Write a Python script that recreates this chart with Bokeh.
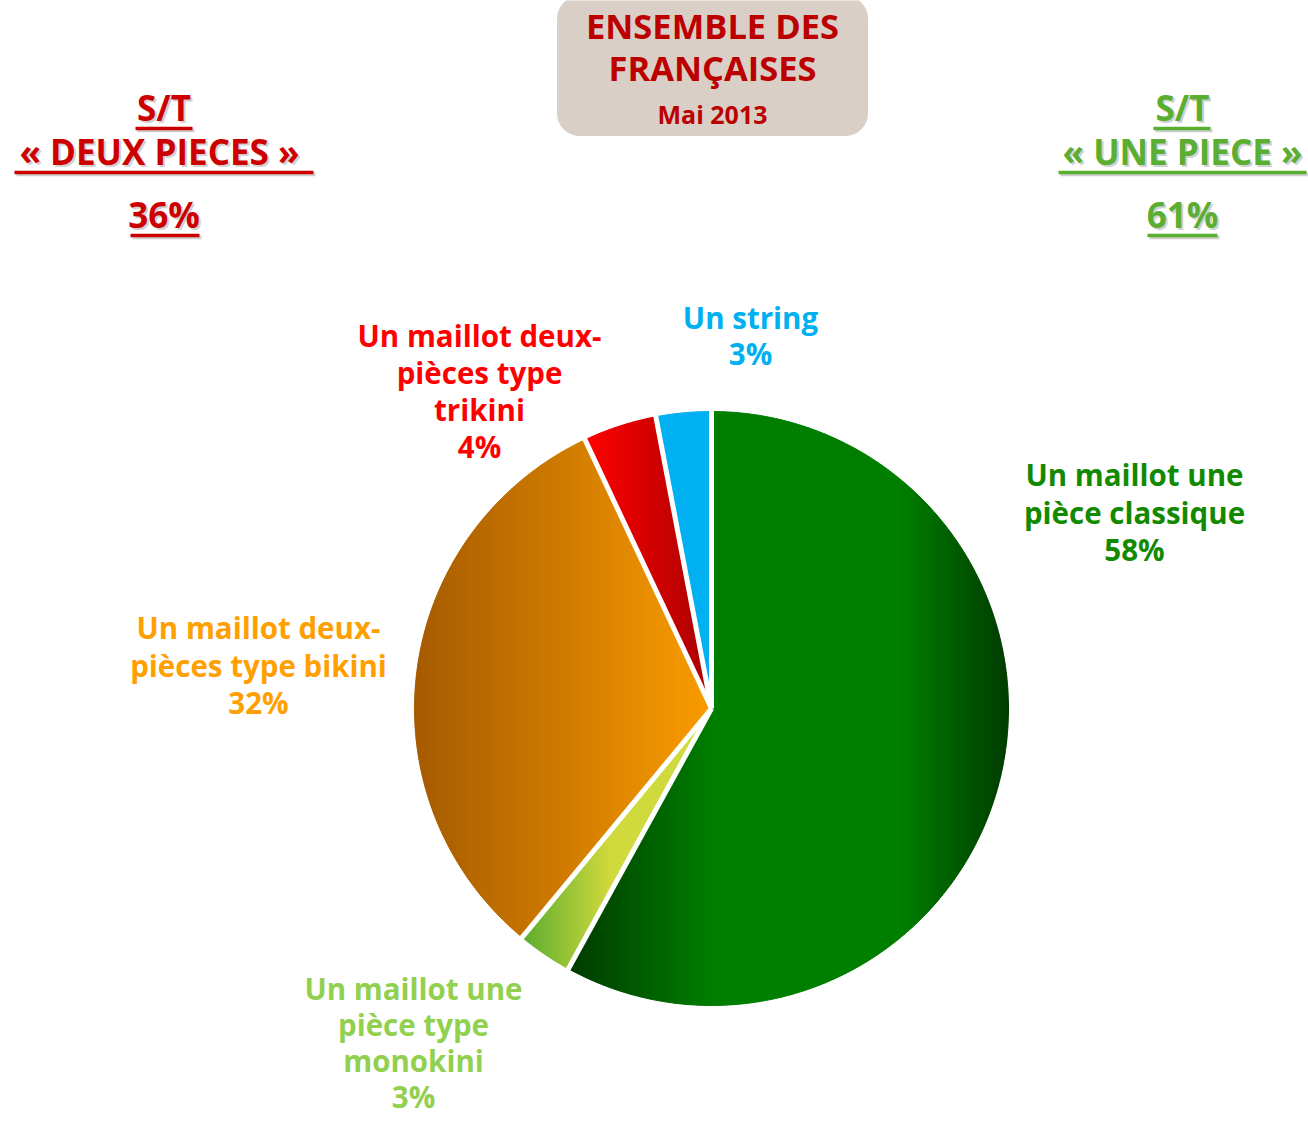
import numpy as np
from bokeh.plotting import figure
from bokeh.models import Range1d, ColumnDataSource
from bokeh.embed import file_html
from bokeh.resources import INLINE
from bokeh.core.properties import value

# ---------------- data ----------------
categories = ["Un maillot une pièce classique",
              "Un maillot une pièce type monokini",
              "Un maillot deux-pièces type bikini",
              "Un maillot deux-pièces type trikini",
              "Un string"]
values = [58, 3, 32, 4, 3]
label_lines = [["Un maillot une", "pièce classique"],
               ["Un maillot une", "pièce type", "monokini"],
               ["Un maillot deux-", "pièces type bikini"],
               ["Un maillot deux-", "pièces type", "trikini"],
               ["Un string"]]
group_of = ["une", "une", "deux", "deux", None]
title_lines = ["ENSEMBLE DES", "FRANÇAISES"]
subtitle = "Mai 2013"
left_head = ["S/T", "«  DEUX PIECES »"]
right_head = ["S/T", "« UNE PIECE »"]

# ---------------- styles / layout ----------------
FONT = value("Open Sans")
label_colors = ["#128A00", "#92D050", "#FFA000", "#FF0000", "#00B0F0"]
grad_stops = [
    [(572, "#003C00"), (715, "#007F00"), (900, "#007F00"), (1008, "#003C00")],
    [(522, "#5BAC2D"), (610, "#D0DA3A")],
    [(414, "#A55A00"), (711, "#FA9C00")],
    [(585, "#FF0000"), (711, "#A80000")],
    [(650, "#00B0F0"), (715, "#00B0F0")],
]
LBL = 29.5
# label anchor: (center x, first baseline y, line spacing) in screen px
label_pos = [(1134, 487, 37.5), (413, 1001, 36), (258, 640, 37.5),
             (479, 348, 37), (750, 330, 36)]

PW, PH = 1308, 1124
p = figure(width=PW, height=PH, x_range=Range1d(0, PW), y_range=Range1d(0, PH),
           output_backend="svg", toolbar_location=None, min_border=0,
           x_axis_location=None, y_axis_location=None)
p.grid.visible = False
p.outline_line_color = None
p.background_fill_color = "white"
p.border_fill_color = "white"


def Y(sy):
    return PH - sy


def TY(baseline, size):
    # bokeh places "alphabetic" text a bit lower than the requested point
    return Y(baseline - 0.43 * size)


def hex2rgb(h):
    h = h.lstrip("#")
    return np.array([int(h[i:i + 2], 16) for i in (0, 2, 4)], dtype=float)


def color_at(stops, x):
    xs = [s[0] for s in stops]
    if x <= xs[0]:
        c = hex2rgb(stops[0][1])
    elif x >= xs[-1]:
        c = hex2rgb(stops[-1][1])
    else:
        for i in range(len(stops) - 1):
            if xs[i] <= x <= xs[i + 1]:
                t = (x - xs[i]) / (xs[i + 1] - xs[i])
                c = hex2rgb(stops[i][1]) * (1 - t) + hex2rgb(stops[i + 1][1]) * t
                break
    return "#%02x%02x%02x" % tuple(int(round(v)) for v in c)


def clip_half(pts, keep, xb):
    out = []
    n = len(pts)
    for i in range(n):
        a = pts[i]
        b = pts[(i + 1) % n]
        ina, inb = keep(a[0]), keep(b[0])
        if ina:
            out.append(a)
        if ina != inb:
            t = (xb - a[0]) / (b[0] - a[0])
            out.append((xb, a[1] + t * (b[1] - a[1])))
    return out


def clip_strip(poly, x0, x1):
    pts = clip_half(poly, lambda x: x >= x0, x0)
    if len(pts) < 3:
        return []
    pts = clip_half(pts, lambda x: x <= x1, x1)
    return pts if len(pts) >= 3 else []


# ---------------- title box ----------------
bx0, bx1, by0, by1, br = 557, 867, -4, 135, 22
box = []
for (ccx, ccy, a0, a1) in [(bx1 - br, by0 + br, -90, 0), (bx1 - br, by1 - br, 0, 90),
                           (bx0 + br, by1 - br, 90, 180), (bx0 + br, by0 + br, 180, 270)]:
    for a in np.linspace(np.radians(a0), np.radians(a1), 12):
        box.append((ccx + br * np.cos(a), ccy + br * np.sin(a)))
p.patch([b[0] for b in box], [Y(b[1]) for b in box],
        fill_color="#D9CFC6", line_color="#D9CFC6")
title_color = "#BC0000"
p.text(x=[712, 712], y=[TY(40, 34.5), TY(82, 34.5)], text=title_lines, text_font=FONT,
       text_font_style="bold", text_font_size="34.5px", text_color=title_color,
       text_align="center", text_baseline="alphabetic")
p.text(x=[712], y=[TY(124, 25)], text=[subtitle], text_font=FONT,
       text_font_style="bold", text_font_size="25px", text_color=title_color,
       text_align="center", text_baseline="alphabetic")

# ---------------- subtotals ----------------
sub_deux = sum(v for v, g in zip(values, group_of) if g == "deux")
sub_une = sum(v for v, g in zip(values, group_of) if g == "une")

SIDE = 35


def side_block(cx, lines, pct, color, ul_spans):
    texts = lines + [f"{pct}%"]
    bases = [122, 166, 229]
    ul_y = [128, 172, 235]
    for dx, dy, col, alpha in [(2, 2, "#888888", 0.4), (0, 0, color, 1.0)]:
        p.text(x=[cx + dx] * 3, y=[TY(b + dy, SIDE) for b in bases], text=texts, text_font=FONT,
               text_font_style="bold", text_font_size=f"{SIDE}px", text_color=col,
               text_alpha=alpha, text_align="center", text_baseline="alphabetic")
        p.segment(x0=[s[0] + dx for s in ul_spans], x1=[s[1] + dx for s in ul_spans],
                  y0=[Y(u + dy) for u in ul_y], y1=[Y(u + dy) for u in ul_y],
                  line_color=col, line_alpha=alpha, line_width=3.5)


side_block(163.5, left_head, sub_deux, "#CC0000", [(135, 192), (14, 313), (130, 199)])
side_block(1182, right_head, sub_une, "#5AAE32", [(1153, 1210), (1058, 1306), (1147, 1217)])

# ---------------- pie ----------------
cx, cy, R = 711, Y(708), 297
total = float(sum(values))
fr = np.concatenate([[0], np.cumsum(values) / total])
angles = np.pi / 2 - 2 * np.pi * fr

xs, ys, cols = [], [], []
for i in range(len(values)):
    a0, a1 = angles[i], angles[i + 1]
    t = np.linspace(a0, a1, max(12, int(abs(a1 - a0) * 120)))
    poly = [(cx, cy)] + [(cx + R * np.cos(tt), cy + R * np.sin(tt)) for tt in t]
    xmin = min(q[0] for q in poly)
    xmax = max(q[0] for q in poly)
    step = 2.0
    x = xmin
    while x < xmax:
        part = clip_strip(poly, x, min(x + step, xmax))
        if part:
            xs.append([q[0] for q in part])
            ys.append([q[1] for q in part])
            cols.append(color_at(grad_stops[i], x + step / 2))
        x += step

src = ColumnDataSource(dict(xs=xs, ys=ys, c=cols))
p.patches("xs", "ys", source=src, fill_color="c", line_color="c", line_width=1)

# white separators
p.segment(x0=[cx] * len(values), y0=[cy] * len(values),
          x1=[cx + (R + 4) * np.cos(a) for a in angles[:-1]],
          y1=[cy + (R + 4) * np.sin(a) for a in angles[:-1]],
          line_color="white", line_width=5)

# ---------------- labels ----------------
for i, (lines, v) in enumerate(zip(label_lines, values)):
    lx, b0, sp = label_pos[i]
    texts = lines + [f"{v}%"]
    p.text(x=[lx] * len(texts), y=[TY(b0 + k * sp, LBL) for k in range(len(texts))], text=texts,
           text_font=FONT, text_font_style="bold", text_font_size=f"{LBL}px",
           text_color=label_colors[i], text_align="center", text_baseline="alphabetic")

open("out.html", "w").write(file_html(p, INLINE))
